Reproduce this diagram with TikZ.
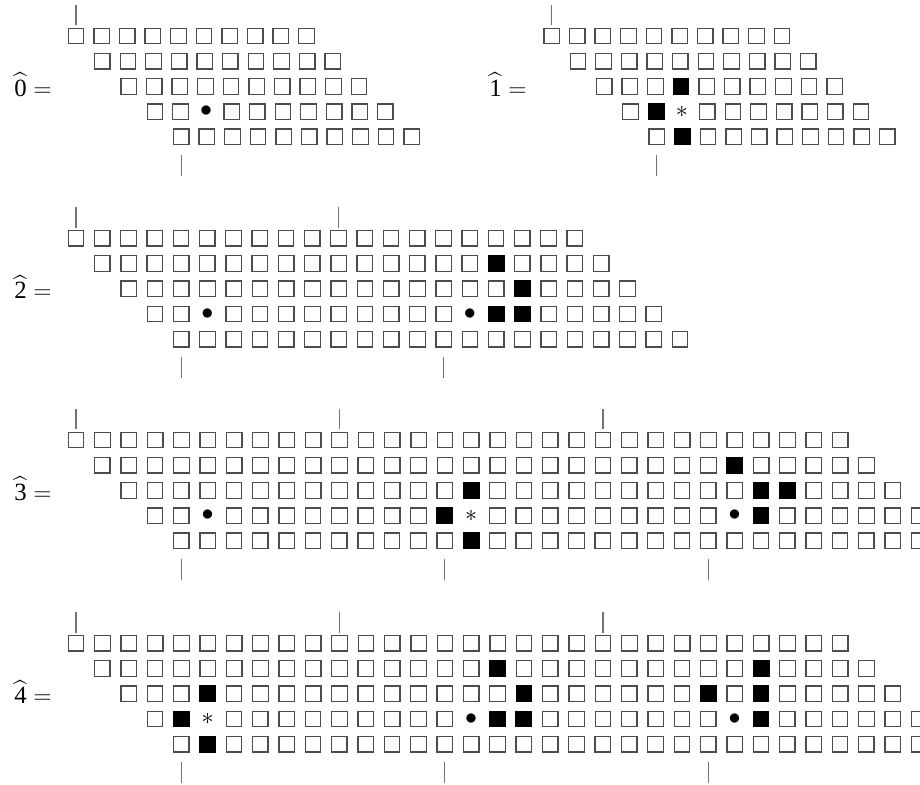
\documentclass[tikz,border=0pt]{standalone}
\usepackage{amsmath,amssymb}
\usepackage{fontspec}
\setmainfont{Liberation Serif}

\tikzset{
    box/.style={draw=black!70, line width=0.65pt, minimum size=7.75pt, inner sep=0pt, outer sep=0pt},
    full/.style={fill=black, draw=black},
    dot/.style={draw=none, label={[inner sep=0pt]center:$\bullet$}},
    star/.style={draw=none, label={[inner sep=0pt]center:$\ast$}},
    tick/.style={draw=black!55, line width=0.6pt},
    % marked cells, named m<diagram>-<row>-<column>
    m0-3-2/.style={dot},
    m1-2-3/.style={full}, m1-3-1/.style={full}, m1-3-2/.style={star}, m1-4-1/.style={full},
    m2-3-2/.style={dot}, m2-1-15/.style={full}, m2-2-15/.style={full},
    m2-3-12/.style={dot}, m2-3-13/.style={full}, m2-3-14/.style={full},
    m3-3-2/.style={dot}, m3-2-13/.style={full}, m3-3-11/.style={full}, m3-3-12/.style={star},
    m3-4-11/.style={full}, m3-1-24/.style={full}, m3-2-24/.style={full}, m3-2-25/.style={full},
    m3-3-22/.style={dot}, m3-3-23/.style={full},
    m4-2-3/.style={full}, m4-3-1/.style={full}, m4-3-2/.style={star}, m4-4-1/.style={full},
    m4-1-15/.style={full}, m4-2-15/.style={full}, m4-3-12/.style={dot}, m4-3-13/.style={full},
    m4-3-14/.style={full}, m4-1-25/.style={full}, m4-2-22/.style={full}, m4-2-24/.style={full},
    m4-3-22/.style={dot}, m4-3-23/.style={full}
}

\begin{document}
\begin{tikzpicture}[x=0.5pt, y=-0.5pt, font=\fontsize{12.4}{15}\selectfont]
    \path[use as bounding box, clip] (0,0) rectangle (920,785);

    % One diagram per entry: number / left / top / column pitch / last column / label right edge / tick columns
    \foreach \dg/\xo/\yo/\pitch/\last/\lx/\ticks in {0/67.7/27.7/25.6/9/52/{0},
            1/543.3/27.7/25.6/9/527/{0},
            2/67.7/230/26.25/19/52/{0,10},
            3/67.7/431.7/26.35/29/52/{0,10,20},
            4/67.7/635/26.35/29/52/{0,10,20}}
        {
            % Draw the rows of cells, each row shifted one step to the right
            \foreach \row in {0,...,4}
            \foreach \col in {0,...,\last}
                {
                    \node[box, m\dg-\row-\col/.try] (c\dg-\row-\col)
                    at ({\xo + 8.35 + \row*26.3 + \col*\pitch}, {\yo + 8.35 + \row*25.2}) {};
                }

            % Short marks above the first row and below the last row
            \foreach \k in \ticks
                {
                    \draw[tick] ([yshift=1.5pt]c\dg-0-\k.north) -- ++(0,-20.5);
                    \draw[tick] ([yshift=-5.25pt]c\dg-4-\k.south) -- ++(0,20.5);
                }

            \node[anchor=base east, inner sep=0pt] (lab\dg) at (\lx, \yo + 68.8) {$\widehat{\text{\dg}}=$};
        }

\end{tikzpicture}
\end{document}
